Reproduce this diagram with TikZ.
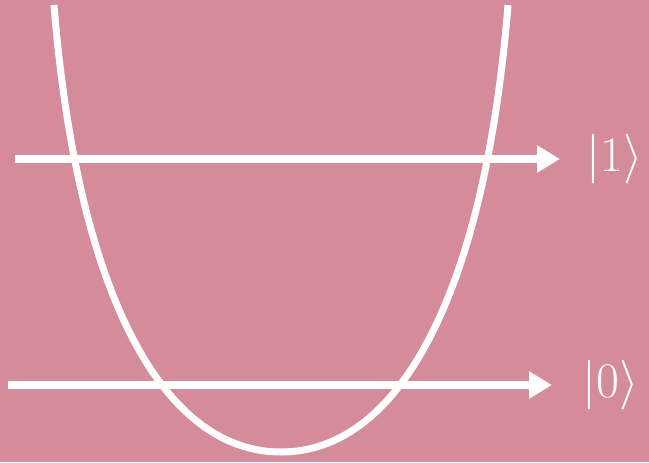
\documentclass[tikz,border=0pt]{standalone}
\usepackage{xcolor}
\definecolor{wellpink}{HTML}{D48B9A}
\usepackage{tikz}
\usetikzlibrary{arrows.meta,positioning}
\tikzset{
  every picture/.style={line join=round},
  well/.style={white, line width=3.5pt},
  levelarrow/.style={white, line width=4pt, -{Triangle[length=11.5pt,width=13pt]}},
  ket/.style={text=white, inner sep=0pt, font=\fontsize{27}{30}\selectfont},
}

\begin{document}
\begin{tikzpicture}[x=0.5pt, y=-0.5pt]
% background
\fill[wellpink] (0,0) rectangle (649,462);
\useasboundingbox (0,0) rectangle (649,462);
% potential well
\draw[well] (54,5) .. controls (77,290) and (161,452) .. (281,452)
  .. controls (401,452) and (485,290) .. (508,5);
% levels
\coordinate (s1) at (15,159);
\coordinate (e1) at (560,159);
\coordinate (s0) at (8,385);
\coordinate (e0) at (552,385);
\draw[levelarrow] (s1) -- (e1);
\draw[levelarrow] (s0) -- (e0);
\node[ket, right=13pt of e1] (k1) {$|1\rangle$};
\node[ket, right=15pt of e0] (k0) {$|0\rangle$};
\end{tikzpicture}
\end{document}
